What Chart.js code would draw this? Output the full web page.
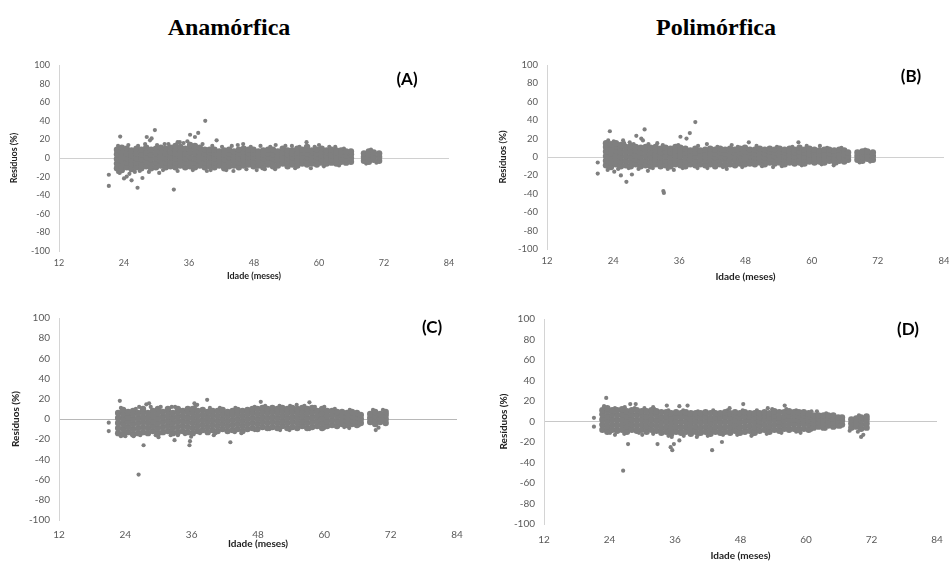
<!DOCTYPE html>
<html lang="pt">
<head>
<meta charset="utf-8">
<title>Resíduos por idade</title>
<script src="https://cdn.jsdelivr.net/npm/chart.js@4.4.1/dist/chart.umd.min.js"></script>
<style>
  html, body { margin: 0; padding: 0; background: #fff; }
  body { width: 949px; height: 562px; position: relative; overflow: hidden; }
  canvas { position: absolute; }
  .titulo {
    position: absolute; line-height: 1; color: #000;
    font-family: "Liberation Serif", "Times New Roman", serif;
    font-weight: bold; font-size: 24px;
    transform: translate(-50%, -50%);
  }
  .letra {
    position: absolute; line-height: 1; color: #000;
    font-family: Lato, "Open Sans", sans-serif;
    font-weight: bold; font-size: 17px;
    transform: translate(-50%, -50%);
  }
</style>
</head>
<body>

<div class="titulo" style="left:229px; top:27px">Anamórfica</div>
<div class="titulo" style="left:716px; top:27px">Polimórfica</div>

<canvas id="painelA" width="470" height="236" style="left:0px; top:45px"></canvas>
<canvas id="painelB" width="490" height="238" style="left:474px; top:45px"></canvas>
<canvas id="painelC" width="476" height="252" style="left:0px; top:298px"></canvas>
<canvas id="painelD" width="490" height="263" style="left:474px; top:299px"></canvas>

<div class="letra" style="left:407px; top:78px">(A)</div>
<div class="letra" style="left:911px; top:75px">(B)</div>
<div class="letra" style="left:432px; top:326px">(C)</div>
<div class="letra" style="left:908px; top:328px">(D)</div>

<script>
// eixo x (idade, meses) e eixo y (residuos, %)
const idadeTicks = [12, 24, 36, 48, 60, 72, 84];
const residuoTicks = [-100, -80, -60, -40, -20, 0, 20, 40, 60, 80, 100];

// nuvem principal: cada linha = [idade, residuos...]
const nuvemA = [
  [22.7, -11,-6,-1,4,9], [23.6, -13,-8,-3,2,7,11], [24.5, -10,-5,0,5,10], [25.4, -12,-7,-2,3,8],
  [26.3, -10,-5,0,5,10], [27.2, -11,-6,-1,4,9], [28.1, -9,-4,1,6,11], [29.0, -11,-6,-1,4,9],
  [29.9, -10,-5,0,5,10], [30.8, -8,-3,2,7,11], [31.7, -10,-5,0,5,10], [32.6, -9,-4,1,6,11],
  [33.5, -10,-5,0,5,10,13], [34.4, -8,-3,2,7,12], [35.3, -10,-5,0,5,10], [36.2, -9,-4,1,6,11,14],
  [37.1, -10,-5,0,5,10,13], [38.0, -8,-3,2,7,11], [38.9, -10,-5,0,5,9], [39.8, -9,-4,1,6,9],
  [40.7, -10,-5,0,5,9], [41.6, -8,-3,2,7], [42.5, -11,-6,-1,4,8], [43.4, -9,-4,1,5,9],
  [44.3, -8,-3,2,7], [45.2, -10,-5,0,5,9], [46.1, -8,-3,2,7,10], [47.0, -7,-3,1,5,9],
  [47.9, -9,-4,1,5,9], [48.8, -8,-3,2,7], [49.7, -10,-5,0,4,8], [50.6, -7,-3,1,5,9],
  [51.5, -9,-4,0,4,9], [52.4, -8,-3,2,7], [53.3, -6,-2,2,6,10], [54.2, -9,-4,0,4,8],
  [55.1, -7,-3,1,5,8], [56.0, -8,-3,2,6,10], [56.9, -6,-2,2,6,9], [57.8, -7,-3,1,5,9,12],
  [58.7, -6,-2,2,6,8], [59.6, -7,-3,1,5,9], [60.5, -5,-1,3,7,10], [61.4, -6,-2,2,6,8],
  [62.3, -5,-1,3,7,9], [63.2, -6,-2,2,6,8], [64.1, -4,0,4,8], [65.0, -5,-1,3,7],
  [65.9, -4,0,4,7], [68.3, -3,1,5], [69.2, -4,0,4,7], [70.1, -2,2,6], [71.1, -3,1,5]
];
const soltosA = [
  [21.2,-18], [21.2,-30], [23.3,23], [26.5,-32], [29.7,30], [33.2,-34], [39,40], [36.2,25],
  [37.1,22.6], [37.7,27], [28.2,22.6], [28.8,19], [29.1,21], [27.4,-21.5], [25.4,-24], [24.5,-20],
  [41.1,19], [57.7,17], [44.2,-14], [34.3,17], [46,15], [23.2,-16], [24,-22], [25,-17], [26,-15],
  [30.5,-16], [31.5,15], [35,16], [40,-13], [45,14], [50,-12], [52,14], [55,13], [58.5,-11],
  [60,14], [63,12], [48.5,-13],
  [22.9,13], [24.8,14], [26.6,13], [27.9,15], [30.1,14], [32.2,15], [33.9,17], [35.7,18],
  [38.5,15], [40.3,13], [42.1,12], [43.9,13], [47.4,12], [49.2,13], [51,12], [53.8,13],
  [56.4,12], [59.2,12], [61.9,12], [64.6,10], [69.6,9], [22.9,-15], [26.9,-14], [28.6,-15],
  [31.2,-13], [33.9,-14], [36.7,-13], [39.3,-14], [42.9,-13], [46.6,-12], [51.9,-12], [55.6,-11],
  [60.9,-9], [63.7,-8], [68.7,-6], [70.6,-5]
];

const nuvemB = [
  [22.7, -9,-4,1,6,11,15], [23.6, -11,-6,-1,4,9,14], [24.5, -8,-3,2,7,12,15], [25.4, -10,-5,0,5,10,13],
  [26.3, -9,-4,1,6,11], [27.2, -10,-5,0,5,10,12], [28.1, -8,-3,2,7,11], [29.0, -10,-5,0,5,10],
  [29.9, -9,-4,1,6,11], [30.8, -10,-5,0,5,10], [31.7, -8,-3,2,7,11], [32.6, -10,-5,0,5,9],
  [33.5, -9,-4,1,6,10], [34.4, -10,-5,0,5,9], [35.3, -8,-3,2,7,11], [36.2, -9,-4,1,6,10],
  [37.1, -10,-5,0,5,9], [38.0, -8,-3,2,7], [38.9, -9,-4,1,5,9], [39.8, -8,-3,2,7],
  [40.7, -9,-4,0,4,8], [41.6, -8,-3,2,6,9], [42.5, -10,-5,0,4,8], [43.4, -8,-3,1,5,9],
  [44.3, -9,-4,0,4,8], [45.2, -8,-3,2,6,9], [46.1, -9,-4,0,4,8], [47.0, -7,-3,1,5,9],
  [47.9, -8,-3,2,6,10], [48.8, -7,-3,1,5,8], [49.7, -8,-4,0,4,8], [50.6, -6,-2,2,6,9],
  [51.5, -8,-4,0,4,8], [52.4, -6,-2,2,6,9], [53.3, -7,-3,1,5,8], [54.2, -6,-2,2,6,9],
  [55.1, -8,-3,1,5,8], [56.0, -6,-2,2,6,9], [56.9, -7,-3,1,5,8], [57.8, -6,-2,2,6,10],
  [58.7, -7,-3,1,5,8], [59.6, -5,-1,3,7,9], [60.5, -6,-2,2,6,8], [61.4, -5,-1,3,7],
  [62.3, -6,-2,2,6,8], [63.2, -4,0,4,8], [64.1, -5,-1,3,7], [65.0, -4,0,4,8],
  [65.9, -5,-1,3,7], [66.6, -3,1,5], [68.3, -3,1,5], [69.2, -4,0,4,6], [70.1, -2,2,6], [71.1, -3,1,5]
];
const soltosB = [
  [21.2,-6], [21.2,-18], [23.4,28], [29.7,30], [38.9,38], [33.1,-37], [33.2,-39], [26.4,-27],
  [25.4,-20], [27.4,-19], [36.2,22], [37.3,20], [37.9,26], [28.2,23], [29.1,20], [29.4,18],
  [48.6,16], [57.6,16], [30.3,-15], [44.6,-13], [23,-14], [24.2,-16], [25.8,18], [27,16],
  [32,15], [35,-14], [41,14], [45.5,13], [53,-11], [61.5,12], [64,-9],
  [23.1,18], [24.1,17], [26,15], [27.7,14], [30.4,14], [33,13], [35.8,13], [39.4,12],
  [42.9,11], [46.6,11], [50,12], [53.7,11], [56.5,11], [59.1,12], [62.8,10], [65.4,10],
  [69.7,8], [24.9,-13], [26.8,-12], [28.6,-13], [31.2,-12], [33.9,-13], [36.6,-12], [39.3,-12],
  [41.1,-12], [43.9,-11], [47.4,-11], [51,-10], [54.6,-10], [58.2,-9], [61.8,-8], [64.5,-7],
  [68.7,-6], [70.6,-5]
];

const nuvemC = [
  [22.7, -14,-9,-4,1,6], [23.6, -15,-10,-5,0,5,9], [24.5, -13,-8,-3,2,7], [25.4, -15,-10,-5,0,5,8],
  [26.3, -14,-9,-4,1,6], [27.2, -13,-8,-3,2,7,10], [28.1, -14,-9,-4,1,6], [29.0, -12,-7,-2,3,8],
  [29.9, -14,-9,-4,1,6,10], [30.8, -13,-8,-3,2,7], [31.7, -12,-7,-2,3,8,10], [32.6, -14,-9,-4,1,6],
  [33.5, -13,-8,-3,2,7,10], [34.4, -12,-7,-2,3,8], [35.3, -13,-8,-3,2,7,10], [36.2, -14,-9,-4,1,6,10],
  [37.1, -12,-7,-2,3,8], [38.0, -11,-6,-1,4,9], [38.9, -13,-8,-3,2,7], [39.8, -11,-6,-1,4,8],
  [40.7, -12,-7,-2,3,8], [41.6, -10,-5,0,5,9], [42.5, -12,-7,-2,3,7], [43.4, -11,-6,-1,4,8],
  [44.3, -10,-5,0,5,9], [45.2, -12,-7,-2,3,8], [46.1, -10,-5,0,5,9], [47.0, -9,-4,1,6,10],
  [47.9, -10,-5,0,5,10], [48.8, -8,-3,2,7,11], [49.7, -9,-4,1,6,10], [50.6, -8,-3,2,7,11],
  [51.5, -9,-4,1,6,10], [52.4, -7,-2,3,8,11], [53.3, -9,-4,1,6,10], [54.2, -8,-3,2,7,11],
  [55.1, -9,-4,1,6,10], [56.0, -7,-2,3,8,11], [56.9, -9,-4,1,6,10], [57.8, -8,-3,2,7,11],
  [58.7, -7,-2,3,8], [59.6, -9,-4,1,6,10], [60.5, -7,-2,3,8], [61.4, -6,-1,4,8],
  [62.3, -7,-2,3,7], [63.2, -5,-1,3,7], [64.1, -6,-2,2,6], [65.0, -5,-1,3,7],
  [65.9, -6,-2,2,6], [66.6, -4,0,4], [68.3, -3,1,5], [69.2, -5,-1,3,7], [70.1, -3,1,5], [71.1, -4,0,4,7]
];
const soltosC = [
  [21,-3.6], [21,-12], [23,18], [26.4,-55], [27.3,-26], [27.8,14.5], [28.3,15.5], [32.9,-21],
  [35.6,-26], [35.7,-22], [35.9,-17.5], [38.8,19], [43,-23], [48.5,17], [57.3,16.5], [36.5,15.5],
  [37,14], [32.4,12], [69.3,-11], [69.8,-8.6], [24,-17], [25.5,-17], [30,-18], [33.5,-16],
  [40,-16], [45,-14], [52,-11], [55,14], [60,12], [64.5,-9], [26.5,12],
  [23.2,11], [25.9,10], [28.6,12], [30.4,12], [33,12], [36.6,12], [39.3,11], [41.1,11],
  [43.9,11], [47.4,12], [49.3,13], [51.9,13], [53.8,13], [56.4,13], [58.3,12], [61.9,10],
  [64.6,9], [68.8,9], [70.6,9], [23.2,-17], [26.7,-16], [29.5,-16], [32.2,-16], [34.8,-15],
  [37.5,-14], [40.3,-14], [43.8,-13], [47.4,-11], [50.1,-10], [53.7,-11], [57.3,-10], [60,-9],
  [63.6,-8], [66.3,-6]
];

const nuvemD = [
  [22.7, -8,-3,2,7,11], [23.6, -10,-5,0,5,10,13], [24.5, -8,-3,2,7,11], [25.4, -9,-4,1,6,11],
  [26.3, -8,-3,2,7,12], [27.2, -10,-5,0,5,10], [28.1, -8,-3,2,7,11], [29.0, -9,-4,1,6,11],
  [29.9, -8,-3,2,7,10], [30.8, -10,-5,0,5,10], [31.7, -8,-3,2,7,11], [32.6, -9,-4,1,6,10],
  [33.5, -11,-6,-1,4,9], [34.4, -10,-5,0,5,9], [35.3, -12,-7,-2,3,8], [36.2, -10,-5,0,5,9],
  [37.1, -11,-6,-1,4,8], [38.0, -10,-5,0,5,9], [38.9, -12,-7,-2,3,8], [39.8, -10,-5,0,5,8],
  [40.7, -11,-6,-1,4,8], [41.6, -10,-5,0,5,9], [42.5, -12,-7,-2,3,8], [43.4, -10,-5,0,4,8],
  [44.3, -11,-6,-1,4,8], [45.2, -10,-5,0,5,9], [46.1, -11,-6,-1,4,8], [47.0, -9,-4,1,6,9],
  [47.9, -11,-6,-1,4,8], [48.8, -10,-5,0,5,9], [49.7, -9,-4,1,5,8], [50.6, -11,-6,-1,4,8],
  [51.5, -9,-4,0,4,8], [52.4, -8,-3,2,6,9], [53.3, -10,-5,0,4,8], [54.2, -8,-3,2,6,10],
  [55.1, -9,-4,0,4,9], [56.0, -7,-3,1,5,9], [56.9, -8,-3,2,6,10], [57.8, -7,-2,2,6,9],
  [58.7, -8,-3,1,5,9], [59.6, -7,-2,2,6,9], [60.5, -8,-3,1,5,8], [61.4, -6,-2,2,6],
  [62.3, -5,-1,3,6], [63.2, -6,-2,2,6], [64.1, -4,0,4,6], [65.0, -5,-1,3,6],
  [65.9, -4,0,4], [66.6, -3,1,4], [68.3, -6,-2,2], [69.2, -5,-1,3], [70.1, -7,-3,1,4], [71.1, -6,-2,2,5]
];
const soltosD = [
  [21.15,3.6], [21.15,-5], [23.4,23], [26.5,-48], [27.4,-22], [27.8,17], [28.8,17], [32.8,-22],
  [35.2,-25], [35.5,-28], [35.8,-22], [36.8,-18.5], [42.8,-28], [44.6,-20], [48.5,17], [70.1,-15],
  [70.5,-13], [34.5,15.5], [36.8,15], [38.3,15.5], [56.1,15.5], [35.4,-15], [23,15], [25,-13],
  [30,-13], [32,14], [40,-15], [46,13], [50,-14], [53,13], [59,-11], [62,10], [68,-9], [69.5,-10],
  [23.1,14], [25,13], [26.8,14], [28.6,13], [30.4,13], [32.2,12], [34.8,11], [37.5,11],
  [40.2,10], [43,11], [45.6,11], [48.4,11], [51,11], [53.8,12], [56.4,12], [58.2,11],
  [61,10], [63.7,8], [69.7,6], [24.1,-11], [26.7,-12], [29.4,-11], [32,-12], [34.8,-14],
  [37.6,-14], [40.2,-13], [42,-14], [44.8,-13], [47.4,-13], [50.1,-13], [52.8,-12], [55.5,-11],
  [58.2,-10], [61,-8], [63.6,-7], [66.3,-5]
];

const corPonto = '#7f7f7f';
const corTexto = '#595959';

function pontosNuvem(nuvem) {
  let pts = [];
  nuvem.forEach(function(col) {
    for (let i = 1; i < col.length; i++) pts.push({x: col[0], y: col[i]});
  });
  return pts;
}

function pontosSoltos(lista) {
  return lista.map(p => ({x: p[0], y: p[1]}));
}

// monta um painel; g = medidas do layout de cada grafico
function painel(id, nuvem, soltos, g) {
  return new Chart(document.getElementById(id), {
    type: 'scatter',
    data: {
      datasets: [
        { data: pontosNuvem(nuvem), pointRadius: 3.2, pointBackgroundColor: corPonto, pointBorderWidth: 0 },
        { data: pontosSoltos(soltos), pointRadius: 2.1, pointBackgroundColor: corPonto, pointBorderWidth: 0 }
      ]
    },
    options: {
      responsive: false,
      animation: false,
      events: [],
      layout: { padding: { left: 0, top: g.padTop, right: g.padRight, bottom: 0 } },
      plugins: { legend: { display: false }, tooltip: { enabled: false } },
      scales: {
        x: {
          type: 'linear', min: idadeTicks[0], max: idadeTicks[idadeTicks.length - 1],
          afterBuildTicks: s => { s.ticks = idadeTicks.map(v => ({value: v})); },
          afterFit: s => { s.height = g.xH; },
          grid: { display: false, drawTicks: false },
          border: { display: false },
          ticks: { color: corTexto, padding: g.tickPadX, font: { family: 'Lato', size: g.tickSize } },
          title: {
            display: true, text: 'Idade (meses)', color: '#222',
            padding: { top: 0, bottom: 0 },
            font: { family: 'Lato', weight: 'bold', size: g.xTitleSize }
          }
        },
        y: {
          min: residuoTicks[0], max: residuoTicks[residuoTicks.length - 1],
          afterBuildTicks: s => { s.ticks = residuoTicks.map(v => ({value: v})); },
          afterFit: s => { s.width = g.yW; },
          grid: {
            drawTicks: false, lineWidth: 1,
            color: c => (c.tick && c.tick.value === 0) ? g.corZero : 'rgba(0,0,0,0)'
          },
          border: { display: true, color: '#d4d4d4' },
          ticks: { color: corTexto, padding: 9, font: { family: 'Lato', size: g.tickSize } },
          title: {
            display: true, text: 'Resíduos (%)', color: '#222',
            padding: { top: g.yTitlePad, bottom: 0 },
            font: { family: 'Lato', weight: 'bold', size: g.yTitleSize }
          }
        }
      }
    }
  });
}

painel('painelA', nuvemA, soltosA, { padTop: 20, padRight: 21, yW: 59, xH: 30, tickPadX: 7,
  tickSize: 9, xTitleSize: 9, yTitleSize: 9, yTitlePad: 8.6, corZero: '#d0d0d0' });
painel('painelB', nuvemB, soltosB, { padTop: 20, padRight: 20, yW: 73, xH: 34, tickPadX: 6.5,
  tickSize: 9.5, xTitleSize: 10, yTitleSize: 9.5, yTitlePad: 23.5, corZero: '#d0d0d0' });
painel('painelC', nuvemC, soltosC, { padTop: 20, padRight: 19, yW: 59, xH: 30, tickPadX: 8.5,
  tickSize: 10, xTitleSize: 10, yTitleSize: 10, yTitlePad: 10, corZero: '#b8b8b8' });
painel('painelD', nuvemD, soltosD, { padTop: 20, padRight: 27, yW: 70, xH: 38, tickPadX: 10,
  tickSize: 10, xTitleSize: 10, yTitleSize: 10, yTitlePad: 23.3, corZero: '#c8c8c8' });
</script>
</body>
</html>
